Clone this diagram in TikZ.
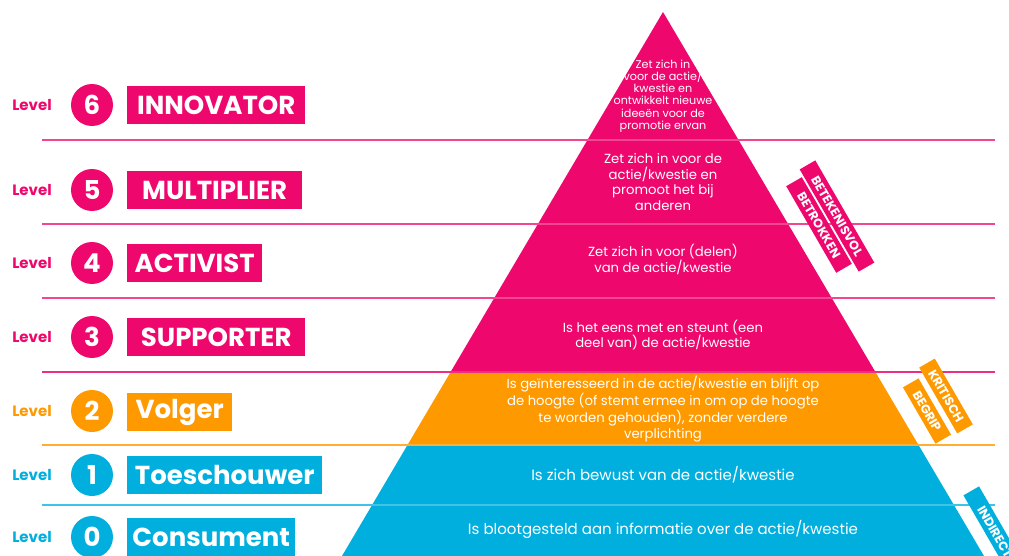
\documentclass[tikz,border=0pt]{standalone}
\usepackage{fontspec}
\setmainfont{Poppins}
\definecolor{pk}{RGB}{238,8,110}
\definecolor{og}{RGB}{255,153,0}
\definecolor{bl}{RGB}{0,175,222}
\begin{document}
\begin{tikzpicture}[x=1pt,y=-1pt,
  lvl/.style={text=#1,font=\bfseries\fontsize{15}{17}\selectfont,inner sep=0},
  num/.style={circle,fill=#1,text=white,minimum size=42,inner sep=0,font=\bfseries\fontsize{26}{28}\selectfont},
  namebox/.style={fill=#1,text=white,anchor=west,minimum height=38,inner sep=0,font=\bfseries\fontsize{26}{28}\selectfont},
  ptext/.style={text=white,align=center,inner sep=0,font=\fontsize{13.2}{15.4}\selectfont},
  tag/.style={fill=#1,text=white,rotate=-60,minimum height=18,inner sep=0,font=\bfseries\fontsize{12.5}{13}\selectfont},
  sep/.style={line width=1.3}]
\useasboundingbox (0,0) rectangle (1009,556);
\clip (0,0) rectangle (1009,556);
% pyramid bands
\fill[pk] (663,12) -- (875.4,372) -- (450.6,372) -- cycle;
\fill[og] (450.6,372) -- (875.4,372) -- (918.5,445) -- (407.5,445) -- cycle;
\fill[bl] (407.5,445) -- (918.5,445) -- (984,556) -- (342,556) -- cycle;
% separator lines
\draw[sep,pk!75!white] (42,140) -- (995,140);
\draw[sep,pk!75!white] (42,224) -- (995,224);
\draw[sep,pk!75!white] (42,298) -- (995,298);
\draw[sep,pk!85!white] (42,372) -- (995,372);
\draw[sep,og!80!white] (42,445) -- (995,445);
\draw[sep,bl!75!white] (42,505) -- (995,505);
% pyramid texts
\node[ptext,font=\fontsize{11.2}{12.2}\selectfont] (t6) at (663,96) {Zet zich in\\voor de actie/\\kwestie en\\ontwikkelt nieuwe\\ideeën voor de\\promotie ervan};
\node[ptext] (t5) at (663,182) {Zet zich in voor de\\actie/kwestie en\\promoot het bij\\anderen};
\node[ptext] (t4) at (663,259.5) {Zet zich in voor (delen)\\van de actie/kwestie};
\node[ptext] (t3) at (663,335) {Is het eens met en steunt (een\\deel van) de actie/kwestie};
\node[ptext] (t2) at (663,409) {Is geïnteresseerd in de actie/kwestie en blijft op\\de hoogte (of stemt ermee in om op de hoogte\\te worden gehouden), zonder verdere\\verplichting};
\node[ptext,font=\fontsize{15}{16}\selectfont] (t1) at (663,475) {Is zich bewust van de actie/kwestie};
\node[ptext,font=\fontsize{15}{16}\selectfont] (t0) at (663,529) {Is blootgesteld aan informatie over de actie/kwestie};
% tags
\node[tag=pk,minimum width=118] (g1) at (837,216) {BETEKENISVOL};
\node[tag=pk,minimum width=100] (g2) at (819,225) {BETROKKEN};
\node[tag=og,minimum width=76] (g3) at (946,396) {KRITISCH};
\node[tag=og,minimum width=65] (g4) at (927,411) {BEGRIP};
\node[tag=bl,minimum width=95] (g5) at (995,532) {INDIRECT};
% left column
\node[lvl=pk] (l6) at (32,105) {Level};
\node[num=pk] (n6) at (92,105) {6};
\node[namebox=pk,minimum width=178] (b6) at (127,105) {INNOVATOR};
\node[lvl=pk] (l5) at (32,190) {Level};
\node[num=pk] (n5) at (92,190) {5};
\node[namebox=pk,minimum width=175] (b5) at (127,190) {MULTIPLIER};
\node[lvl=pk] (l4) at (32,263) {Level};
\node[num=pk] (n4) at (92,263) {4};
\node[namebox=pk,minimum width=135] (b4) at (127,263) {ACTIVIST};
\node[lvl=pk] (l3) at (32,337) {Level};
\node[num=pk] (n3) at (92,337) {3};
\node[namebox=pk,minimum width=178] (b3) at (127,337) {SUPPORTER};
\node[lvl=og] (l2) at (32,411) {Level};
\node[num=og] (n2) at (92,411) {2};
\node[namebox=og,minimum width=105] (b2) at (127,412) {Volger};
\node[lvl=bl] (l1) at (32,475) {Level};
\node[num=bl] (n1) at (92,475) {1};
\node[namebox=bl,minimum width=195] (b1) at (127,475) {Toeschouwer};
\node[lvl=bl] (l0) at (32,537) {Level};
\node[num=bl] (n0) at (92,537) {0};
\node[namebox=bl,minimum width=168] (b0) at (127,537) {Consument};
\end{tikzpicture}
\end{document}
